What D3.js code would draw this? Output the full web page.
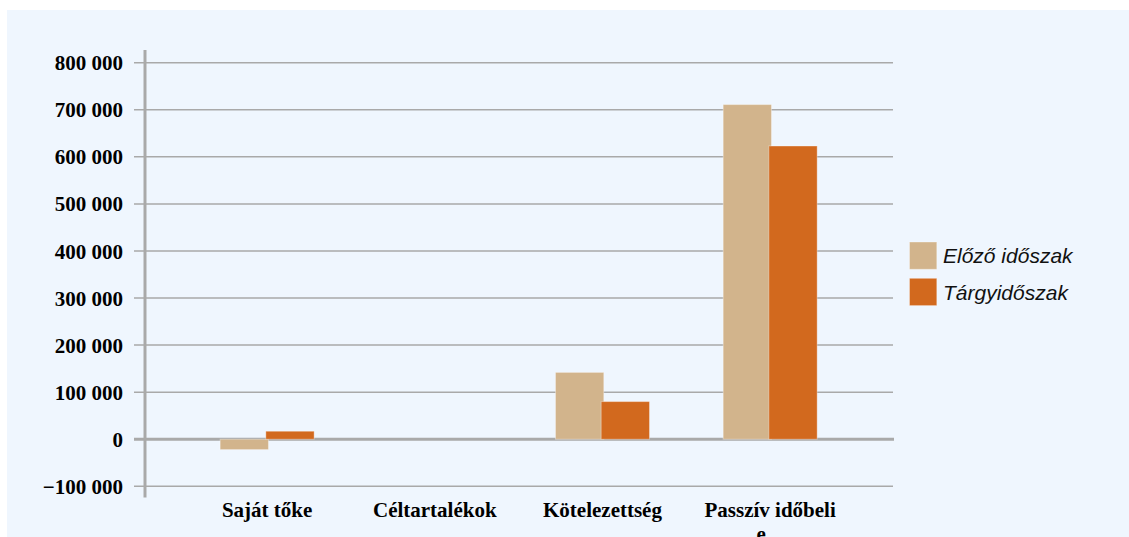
<!DOCTYPE html>
<html>
<head>
<meta charset="utf-8">
<script src="https://cdn.jsdelivr.net/npm/d3@7"></script>
<style>
  body { margin: 0; background: #fff; }
</style>
</head>
<body>
<svg id="chart"></svg>
<script>
// data
const categories = ["Saját tőke", "Céltartalékok", "Kötelezettség", "Passzív időbeli e"];
const seriesNames = ["Előző időszak", "Tárgyidőszak"];
const elozo = [-22000, 0, 142000, 711000];
const targy = [17000, 0, 80000, 623000];
const yTicks = [-100000, 0, 100000, 200000, 300000, 400000, 500000, 600000, 700000, 800000];
const colors = ["#d2b48c", "#d2691e"];

const svg_width = 1129, svg_height = 537;
const svg = d3.select("#chart")
  .attr("width", svg_width)
  .attr("height", svg_height);

// light panel behind everything
svg.append("rect")
  .attr("x", 7).attr("y", 10)
  .attr("width", svg_width - 7).attr("height", svg_height - 10)
  .style("fill", "#eff6fe");

const axisX = 145, gridEnd = 893;

let yScale = d3.scaleLinear()
  .domain([-100000, 800000])
  .range([486.3, 62.7]);

let xScale = d3.scaleBand()
  .domain(categories)
  .range([183.3, 854])
  .padding(0);

const fmt = v => d3.format(",")(v).replace(/,/g, " ");

// grid lines + tick stubs
const grid = svg.append("g");
grid.selectAll("line")
  .data(yTicks)
  .enter()
  .append("line")
    .attr("x1", axisX - 11)
    .attr("x2", d => d === 0 ? gridEnd + 1 : gridEnd)
    .attr("y1", d => yScale(d))
    .attr("y2", d => yScale(d))
    .style("stroke", "#a9a9a9")
    .style("stroke-width", d => d === 0 ? 3 : 1.5);

// tick labels
svg.append("g").selectAll("text")
  .data(yTicks)
  .enter()
  .append("text")
    .attr("x", 123)
    .attr("y", d => yScale(d))
    .attr("dy", "0.36em")
    .attr("text-anchor", "end")
    .style("font-family", "'Liberation Serif', 'Times New Roman', serif")
    .style("font-weight", "bold")
    .style("font-size", "21px")
    .style("fill", "#000")
    .text(d => fmt(d));

// bars
const bw = 48.3, overlap = 2.6;
const series = [elozo, targy];
series.forEach((vals, s) => {
  svg.append("g").selectAll("rect")
    .data(vals)
    .enter()
    .append("rect")
      .attr("x", (d, i) => {
        const c = xScale(categories[i]) + xScale.bandwidth() / 2;
        return s === 0 ? c - bw + overlap / 2 : c - overlap / 2;
      })
      .attr("y", d => yScale(Math.max(0, d)))
      .attr("width", bw)
      .attr("height", d => Math.abs(yScale(d) - yScale(0)))
      .style("fill", colors[s])
      .style("stroke", "rgba(255,255,255,0.35)")
      .style("stroke-width", 1);
});

// y axis line
svg.append("line")
  .attr("x1", axisX).attr("x2", axisX)
  .attr("y1", 50).attr("y2", 497.5)
  .style("stroke", "#a9a9a9")
  .style("stroke-width", 3);

// category labels (last one wraps, second line runs off the bottom)
const catLabels = svg.append("g").selectAll("text")
  .data(categories)
  .enter()
  .append("text")
    .attr("y", 517)
    .attr("text-anchor", "middle")
    .style("font-family", "'Liberation Serif', 'Times New Roman', serif")
    .style("font-weight", "bold")
    .style("font-size", "21px")
    .style("fill", "#000");

catLabels.each(function(d) {
  const cx = xScale(d) + xScale.bandwidth() / 2;
  const t = d3.select(this);
  const parts = d.startsWith("Passzív") ? ["Passzív időbeli", "e"] : [d];
  parts.forEach((p, k) => {
    t.append("tspan")
      .attr("x", k === 0 ? cx : cx - 9)
      .attr("dy", k === 0 ? 0 : 24)
      .text(p);
  });
});

// legend
const legend = svg.append("g");
seriesNames.forEach((name, i) => {
  legend.append("rect")
    .attr("x", 909.5).attr("y", 242 + i * 36.3)
    .attr("width", 27.3).attr("height", 27.3)
    .style("fill", colors[i])
    .style("stroke", "rgba(255,255,255,0.35)");
  legend.append("text")
    .attr("x", 943)
    .attr("y", 262.7 + i * 37.3)
    .style("font-family", "'Liberation Sans', Arial, sans-serif")
    .style("font-style", "italic")
    .style("font-size", "21px")
    .style("fill", "#111")
    .text(name);
});
</script>
</body>
</html>
